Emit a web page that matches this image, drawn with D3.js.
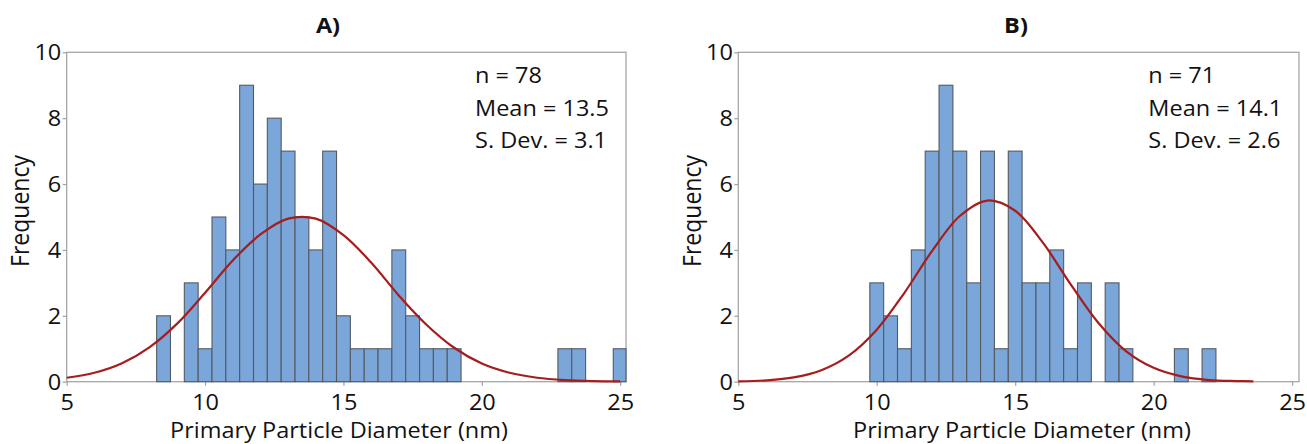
<!DOCTYPE html>
<html>
<head>
<meta charset="utf-8">
<script src="https://cdn.jsdelivr.net/npm/d3@7/dist/d3.min.js"></script>
<style>
  html, body { margin: 0; padding: 0; background: #fff; }
  svg { display: block; font-family: "Open Sans", sans-serif; }
</style>
</head>
<body>
<svg id="chart" width="1307" height="444"></svg>
<script>
// ---------------- data ----------------
const binWidth = 0.5;
const xTicks = [5, 10, 15, 20, 25];
const yTicks = [0, 2, 4, 6, 8, 10];

const binCentersA = [8.5, 9.5, 10, 10.5, 11, 11.5, 12, 12.5, 13, 13.5, 14, 14.5, 15, 15.5, 16, 16.5, 17, 17.5, 18, 18.5, 19, 23, 23.5, 25];
const countsA     = [2,   3,   1,  5,    4,  9,    6,  8,    7,  5,    4,  7,    2,  1,    1,  1,    4,  2,    1,  1,    1,  1,  1,    1];

const binCentersB = [10, 10.5, 11, 11.5, 12, 12.5, 13, 13.5, 14, 14.5, 15, 15.5, 16, 16.5, 17, 17.5, 18.5, 19, 21, 22];
const countsB     = [3,  2,    1,  4,    7,  9,    7,  3,    7,  1,    7,  3,    3,  4,    1,  3,    3,    1,  1,  1];

// fitted normal curves
const curveXA = [5, 6, 7, 8, 9, 10, 11, 12, 13, 14, 15, 16, 17, 18, 19, 20, 21, 22, 23, 24, 25];
const curveYA = [0.12, 0.27, 0.56, 1.05, 1.77, 2.70, 3.68, 4.47, 4.95, 4.95, 4.45, 3.62, 2.62, 1.73, 1.03, 0.55, 0.27, 0.12, 0.05, 0.02, 0.01];

const curveXB = [5, 6, 7, 8, 9, 10, 11, 12, 13, 14, 15, 16, 17, 18, 19, 20, 21, 22, 23, 23.6];
const curveYB = [0.01, 0.04, 0.13, 0.35, 0.80, 1.58, 2.70, 3.97, 5.03, 5.50, 5.19, 4.22, 2.96, 1.79, 0.93, 0.42, 0.16, 0.05, 0.02, 0.01];

const titles = ["A)", "B)"];
const statsA = ["n = 78", "Mean = 13.5", "S. Dev. = 3.1"];
const statsB = ["n = 71", "Mean = 14.1", "S. Dev. = 2.6"];
const xLabel = "Primary Particle Diameter (nm)";
const yLabel = "Frequency";

// ---------------- drawing ----------------
const svg = d3.select("#chart");
const SX = 1.12;          // horizontal stretch of the text
const FS = 21;

const panels = [
  { left: 66.7, right: 626, xMax: 25.21, centers: binCentersA, counts: countsA,
    cx: curveXA, cy: curveYA, title: titles[0], titleX: 328, stats: statsA, statsX: 475,
    xLabelX: 339, yLabelX: 21 },
  { left: 738.3, right: 1299, xMax: 25.25, centers: binCentersB, counts: countsB,
    cx: curveXB, cy: curveYB, title: titles[1], titleX: 1016, stats: statsB, statsX: 1148.3,
    xLabelX: 1022, yLabelX: 693.3 }
];

const plotTop = 52.3, plotBottom = 381.7;
const gridColor = "#a6a6a6";

function stretchedText(g, x, y, str, anchor, size, weight) {
  return g.append("text")
    .attr("transform", `translate(${x},${y}) scale(${SX},1)`)
    .attr("text-anchor", anchor)
    .attr("font-size", size)
    .attr("font-weight", weight || "normal")
    .attr("fill", "#111")
    .text(str);
}

panels.forEach(p => {
  const x = d3.scaleLinear().domain([5, p.xMax]).range([p.left, p.right]);
  const y = d3.scaleLinear().domain([0, 10]).range([plotBottom, plotTop]);
  const g = svg.append("g");

  // frame
  g.append("rect")
    .attr("x", p.left).attr("y", plotTop)
    .attr("width", p.right - p.left).attr("height", plotBottom - plotTop)
    .attr("fill", "none").attr("stroke", gridColor).attr("stroke-width", 1.3);

  // x axis
  const xa = g.append("g")
    .attr("transform", `translate(0,${plotBottom})`)
    .call(d3.axisBottom(x).tickValues(xTicks).tickSize(4).tickPadding(9).tickFormat(d3.format("d")));
  xa.select(".domain").remove();
  xa.selectAll(".tick line").attr("stroke", gridColor).attr("stroke-width", 1.3);
  xa.selectAll(".tick text")
    .attr("font-size", FS).attr("font-family", "Open Sans, sans-serif").attr("fill", "#111")
    .attr("transform", `scale(${SX},1)`);

  // y axis
  const ya = g.append("g")
    .attr("transform", `translate(${p.left},0)`)
    .call(d3.axisLeft(y).tickValues(yTicks).tickSize(4).tickFormat(d3.format("d")));
  ya.select(".domain").remove();
  ya.selectAll(".tick line").attr("stroke", gridColor).attr("stroke-width", 1.3);
  ya.selectAll(".tick text")
    .attr("font-size", FS).attr("font-family", "Open Sans, sans-serif").attr("fill", "#111")
    .attr("x", -5.4 / SX).attr("dy", "0.36em")
    .attr("transform", `scale(${SX},1)`);

  // bars
  const bars = p.centers.map((c, i) => ({ c, n: p.counts[i] }));
  g.append("g").selectAll("rect")
    .data(bars).join("rect")
    .attr("x", d => x(d.c - binWidth / 2))
    .attr("width", d => Math.min(x(d.c + binWidth / 2), p.right) - x(d.c - binWidth / 2))
    .attr("y", d => y(d.n))
    .attr("height", d => y(0) - y(d.n))
    .attr("fill", "#7ba6da")
    .attr("stroke", "#555a60")
    .attr("stroke-width", 1.1);

  // fitted curve
  const pts = p.cx.map((v, i) => [v, p.cy[i]]);
  g.append("path")
    .datum(pts)
    .attr("d", d3.line().x(d => x(d[0])).y(d => y(d[1])).curve(d3.curveCatmullRom.alpha(0.5)))
    .attr("fill", "none")
    .attr("stroke", "#a51d1d")
    .attr("stroke-width", 2.2);

  // title
  stretchedText(g, p.titleX, 33, p.title, "middle", FS, "bold");

  // stats
  p.stats.forEach((s, i) => stretchedText(g, p.statsX, 83.3 + i * 32.5, s, "start", FS));

  // axis labels
  stretchedText(g, p.xLabelX, 438, xLabel, "middle", FS);
  g.append("text")
    .attr("transform", `translate(${p.yLabelX + 8},211) scale(${SX},1) rotate(-90)`)
    .attr("text-anchor", "middle")
    .attr("font-size", 23)
    .attr("fill", "#111")
    .text(yLabel);
});
</script>
</body>
</html>
